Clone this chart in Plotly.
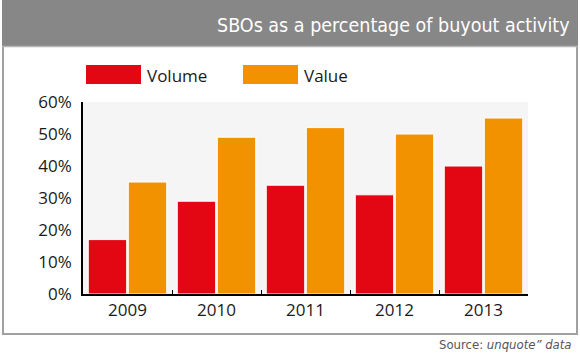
import plotly.graph_objects as go

years = ["2009", "2010", "2011", "2012", "2013"]
volume = [17, 29, 34, 31, 40]
value = [35, 49, 52, 50, 55]
series_names = ["Volume", "Value"]
series_colors = ["#e30613", "#f39200"]
y_ticks = [0, 10, 20, 30, 40, 50, 60]
y_tick_labels = ["0%", "10%", "20%", "30%", "40%", "50%", "60%"]
title_text = "SBOs as a percentage of buyout activity"
source_text = "Source: <i>unquote\u201d data</i>"

W, H = 580, 358
L, R, T, B = 83, 52, 102, 64
pw, ph = W - L - R, H - T - B

COND = "DejaVu Sans Condensed, Roboto, sans-serif"


def px(x):
    return (x - L) / pw


def py(y):
    return (H - B - y) / ph


fig = go.Figure()
for name, vals, col in zip(series_names, [volume, value], series_colors):
    fig.add_trace(go.Bar(x=years, y=vals, name=name, marker=dict(color=col, line=dict(color="white", width=1)),
                         showlegend=False, hoverinfo="skip"))

shapes = [
    dict(type="rect", xref="paper", yref="paper", x0=px(3), x1=px(577), y0=py(334), y1=py(1),
         line=dict(color="#a0a0a0", width=2), fillcolor="rgba(0,0,0,0)", layer="below"),
    dict(type="rect", xref="paper", yref="paper", x0=px(2), x1=px(578), y0=py(46), y1=py(0),
         line=dict(width=0), fillcolor="#878787", layer="below"),
    dict(type="line", xref="paper", yref="paper", x0=px(2), x1=px(578), y0=py(46.5), y1=py(46.5),
         line=dict(color="#b5b5b5", width=1.5)),
]
annotations = [
    dict(text=title_text, xref="paper", yref="paper", x=px(572), y=py(25.5), xanchor="right", yanchor="middle",
         showarrow=False, font=dict(family=COND, size=19.5, color="white")),
    dict(text=source_text, xref="paper", yref="paper", x=px(574), y=py(344), xanchor="right", yanchor="middle",
         showarrow=False, font=dict(family=COND, size=13, color="#555555")),
]
leg_x = [86, 243]
for i, (name, col) in enumerate(zip(series_names, series_colors)):
    x0 = leg_x[i]
    shapes.append(dict(type="rect", xref="paper", yref="paper", x0=px(x0), x1=px(x0 + 55), y0=py(84), y1=py(65),
                       line=dict(width=0), fillcolor=col))
    annotations.append(dict(text=name, xref="paper", yref="paper", x=px(x0 + 59), y=py(75), xanchor="left",
                            yanchor="middle", showarrow=False,
                            font=dict(family="Open Sans", size=17, color="#1a1a1a")))

fig.update_layout(
    width=W, height=H,
    margin=dict(l=L, r=R, t=T, b=B),
    paper_bgcolor="white",
    plot_bgcolor="#f5f5f5",
    barmode="group",
    bargap=0.1,
    bargroupgap=0.04,
    shapes=shapes,
    annotations=annotations,
    xaxis=dict(showline=True, linecolor="black", linewidth=1.5, ticks="inside", ticklen=4, tickcolor="black",
               tickson="boundaries", tickfont=dict(family="Open Sans", size=17, color="#1a1a1a"),
               showgrid=False, automargin=False),
    yaxis=dict(range=[0, 60], tickvals=y_ticks, ticktext=y_tick_labels, showline=True, linecolor="black",
               linewidth=1.5, showgrid=False, zeroline=False, ticks="", ticklabelstandoff=6,
               tickfont=dict(family="Open Sans", size=17, color="#1a1a1a"), automargin=False),
)

fig.write_html("out.html", config={"displayModeBar": False},
               post_script="document.body.style.margin='0px';document.body.style.overflow='hidden';")
